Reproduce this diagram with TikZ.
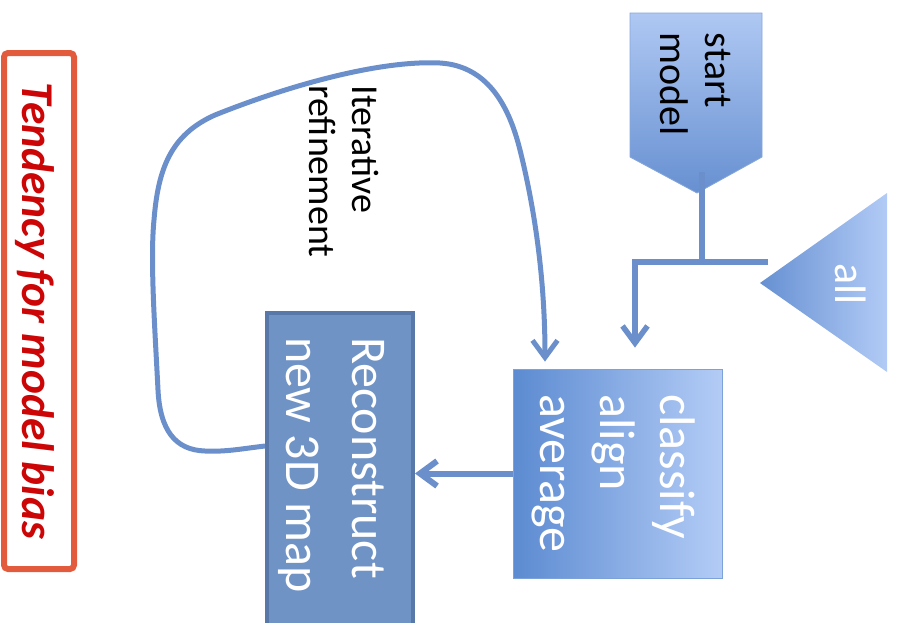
\documentclass[tikz,border=0pt]{standalone}
\usepackage{fontspec}
\setmainfont{Carlito}
\usepackage{tikz}
\usetikzlibrary{arrows.meta}
\definecolor{flowblue}{HTML}{6B8FCB}
\definecolor{biasedge}{HTML}{E25B3C}
\definecolor{biastext}{HTML}{CC0606}
\definecolor{startlight}{HTML}{AFC8F3}
\definecolor{startdark}{HTML}{6790D1}
\definecolor{alldark}{HTML}{6690D2}
\definecolor{alllight}{HTML}{B2CBF6}
\definecolor{classdark}{HTML}{5C8BD1}
\definecolor{classlight}{HTML}{B3CCF6}
\definecolor{reconfill}{HTML}{7093C6}
\definecolor{reconedge}{HTML}{5878A9}
\newcommand{\sidetext}[1]{\rotatebox{-90}{\begin{tabular}{@{}l@{}}#1\end{tabular}}}

\begin{document}
\begin{tikzpicture}[x=1pt,y=-1pt,
  line/.style={draw=flowblue,line width=5.5pt},
  flow/.style={line,-{Straight Barb[length=17pt,width=25pt]}}]
\useasboundingbox (0,0) rectangle (898,622);
\clip (0,0) rectangle (898,622);

\node[draw=biasedge,line width=6pt,rounded corners=4pt,minimum width=70pt,minimum height=516pt,inner sep=0pt,
  text=biastext,font=\fontsize{45.5}{50}\selectfont\bfseries\itshape] (bias) at (39,311)
  {\rotatebox{-90}{\rule{0pt}{40pt}Tendency for model bias}};

\shade[top color=startlight,bottom color=startdark,draw=startdark!80,line width=0.8pt]
  (630,13) -- (762,13) -- (762,157) -- (697,193) -- (630,157) -- cycle;
\node[inner sep=0pt,font=\fontsize{40}{45}\selectfont] (start) at (691.5,84.5) {\sidetext{start\\model}};

\shade[left color=alldark,right color=alllight] (760,283) -- (887,193) -- (887,372) -- cycle;
\node[inner sep=0pt,text=white,font=\fontsize{44}{50}\selectfont] (all) at (851,284) {\rotatebox{-90}{all}};

\node[left color=classdark,right color=classlight,draw=classdark!80,line width=0.8pt,minimum width=209pt,minimum height=209pt,
  inner sep=0pt,text=white,font=\fontsize{50}{60}\selectfont] (classify) at (617.5,473.5)
  {\sidetext{\rule{0pt}{53pt}classify\\align\\average}};

\node[fill=reconfill,draw=reconedge,line width=4pt,minimum width=146pt,inner xsep=0pt,inner ysep=24pt,anchor=north,
  text depth=300pt,text=white,font=\fontsize{50}{66}\selectfont] (recon) at (340,311)
  {\sidetext{\rule{0pt}{60pt}Reconstruct\\new 3D map}};

\node[inner sep=0pt,font=\fontsize{38}{43}\selectfont] (iter) at (340,171.5) {\sidetext{Iterative\\refinement}};

\coordinate (smtip) at (702,172);
\coordinate (barl) at (635,262);
\coordinate (barr) at (768,262);
\draw[line] (smtip) -- (smtip |- barl);
\draw[flow,shorten >=21pt] (barr) -- (barl) -- (barl |- classify.north);
\draw[flow,line width=6pt] (classify.west) -- (recon.east |- classify.west);
\draw[flow,line width=5pt,shorten >=7pt] (recon.west |- 0,446) .. controls (240,449) and (225,452) .. (205,451)
  .. controls (175,450) and (160,430) .. (158,390) .. controls (155,330) and (150,260) .. (154,220)
  .. controls (158,170) and (170,135) .. (215,115) .. controls (290,85) and (380,60) .. (440,63)
  .. controls (490,66) and (510,110) .. (520,150) .. controls (535,210) and (545,280) .. (classify.north -| 545,0);
\end{tikzpicture}
\end{document}
